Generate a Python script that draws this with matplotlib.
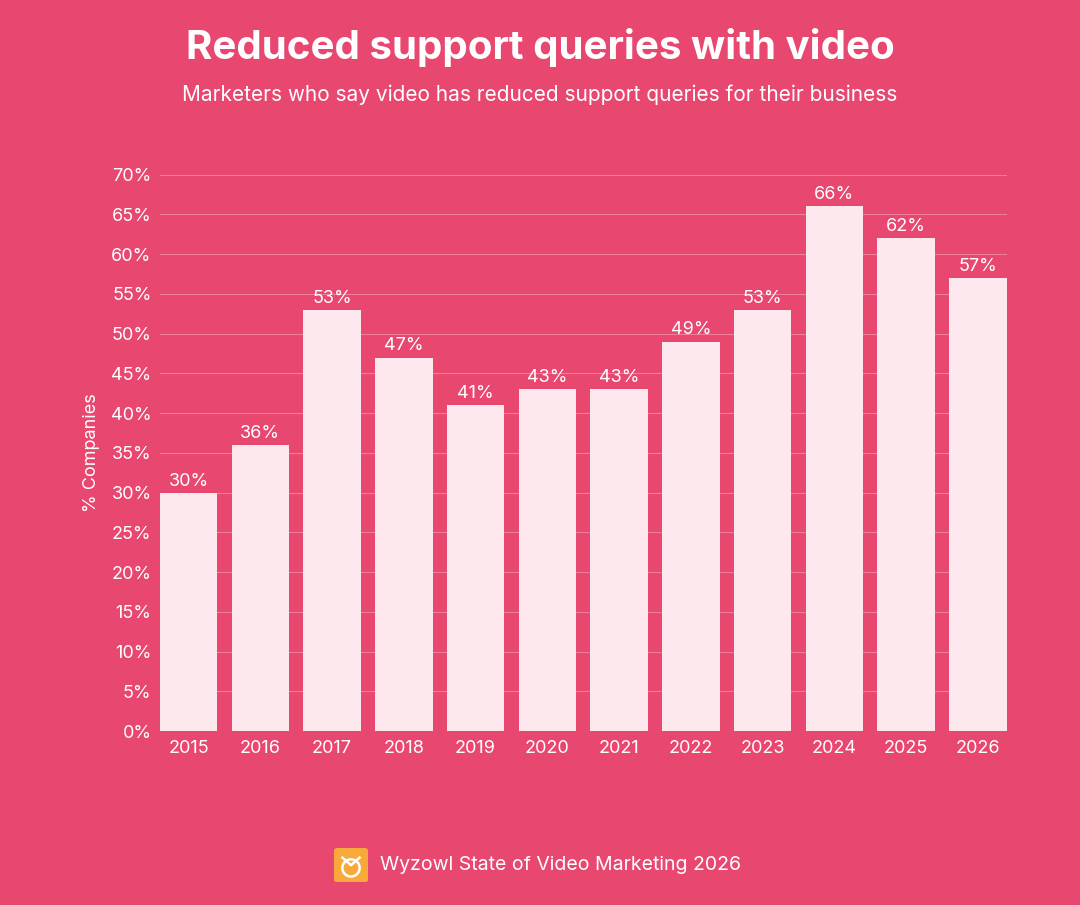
import matplotlib.pyplot as plt
from matplotlib.patches import FancyBboxPatch, Arc

plt.rcParams['font.family'] = ['Inter', 'DejaVu Sans']

years = ['2015', '2016', '2017', '2018', '2019', '2020', '2021', '2022', '2023', '2024', '2025', '2026']
values = [30, 36, 53, 47, 41, 43, 43, 49, 53, 66, 62, 57]

bg = '#E8476F'
bar_color = '#FDE8EE'

fig = plt.figure(figsize=(10.8, 9.05), dpi=100, facecolor=bg)
ax = fig.add_axes([0.148, 0.192, 0.784, 0.615], facecolor=bg)

x = range(len(years))
ax.bar(x, values, width=0.8, color=bar_color, zorder=3)
for i, v in zip(x, values):
    ax.text(i, v + 0.4, f'{v}%', ha='center', va='bottom', color='white', fontsize=13, zorder=4)

ax.set_xlim(-0.4, 11.4)
ax.set_ylim(0, 70)
ax.set_yticks(range(0, 71, 5))
ax.set_yticklabels([f'{t}%' for t in range(0, 71, 5)])
ax.set_xticks(list(x))
ax.set_xticklabels(years)
ax.tick_params(colors='white', labelsize=13, length=0, pad=6)
ax.grid(axis='y', color='white', alpha=0.3, linewidth=0.8, zorder=0)
for s in ax.spines.values():
    s.set_visible(False)
ax.set_ylabel('% Companies', color='white', fontsize=13, labelpad=8)

fig.text(0.5, 0.947, 'Reduced support queries with video', ha='center', va='center',
         color='white', fontsize=29, fontweight='bold')
fig.text(0.5, 0.895, 'Marketers who say video has reduced support queries for their business',
         ha='center', va='center', color='white', fontsize=15)

# footer logo
lax = fig.add_axes([0.309, 0.025, 0.032, 0.038])
lax.set_xlim(0, 1); lax.set_ylim(0, 1); lax.axis('off')
lax.add_patch(FancyBboxPatch((0.02, 0.02), 0.96, 0.96, boxstyle='round,pad=0,rounding_size=0.08',
                             color='#F9A93A'))
lax.add_patch(Arc((0.5, 0.42), 0.5, 0.5, theta1=0, theta2=360, color='white', lw=1.8))
lax.plot([0.25, 0.5, 0.75], [0.72, 0.5, 0.72], color='white', lw=1.8)
fig.text(0.352, 0.044, 'Wyzowl State of Video Marketing 2026', ha='left', va='center',
         color='white', fontsize=14)

fig.savefig('out.png', dpi=100, facecolor=bg)
